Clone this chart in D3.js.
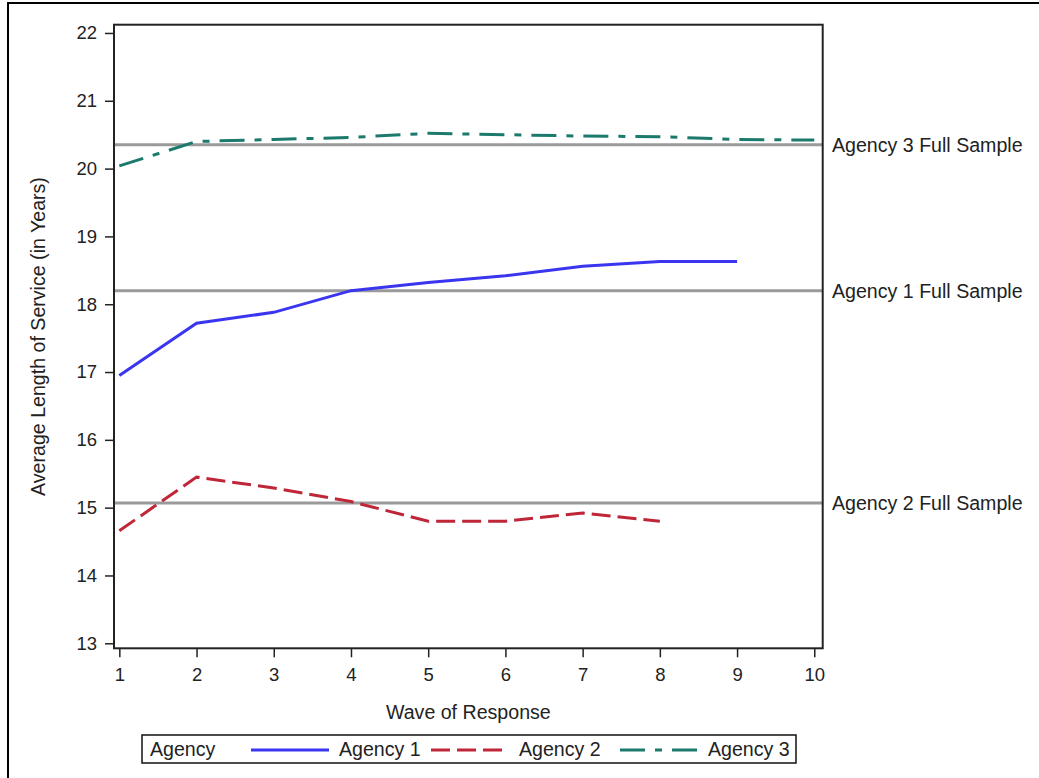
<!DOCTYPE html>
<html>
<head>
<meta charset="utf-8">
<script src="https://cdn.jsdelivr.net/npm/d3@7"></script>
<style>
  html, body { margin: 0; padding: 0; background: #fff; }
  svg text { font-family: "Liberation Sans", Arial, sans-serif; fill: #222; }
</style>
</head>
<body>
<svg id="chart" width="1039" height="778"></svg>
<script>
// Wave of response (x) and average length of service by agency
const waves = [1, 2, 3, 4, 5, 6, 7, 8, 9, 10];
const agency1 = [16.95, 17.72, 17.88, 18.20, 18.32, 18.42, 18.56, 18.63, 18.63];
const agency2 = [14.66, 15.45, 15.29, 15.09, 14.80, 14.80, 14.92, 14.80];
const agency3 = [20.04, 20.40, 20.43, 20.46, 20.52, 20.50, 20.48, 20.47, 20.43, 20.42];
// Full-sample reference values
const fullSampleNames = ["Agency 3 Full Sample", "Agency 1 Full Sample", "Agency 2 Full Sample"];
const fullSampleValues = [20.35, 18.20, 15.07];
const xTicks = [1, 2, 3, 4, 5, 6, 7, 8, 9, 10];
const yTicks = [13, 14, 15, 16, 17, 18, 19, 20, 21, 22];
const seriesNames = ["Agency 1", "Agency 2", "Agency 3"];

const svg = d3.select("#chart");

// outer frame (left and top edges visible)
svg.append("rect").attr("x", 8).attr("y", 3).attr("width", 1100).attr("height", 900)
  .attr("fill", "none").attr("stroke", "#000").attr("stroke-width", 2);

const L = 114, R = 822.7, T = 24.7, B = 648.3;
const x = d3.scaleLinear().domain([0.931, 10.109]).range([L, R]);
const y = d3.scaleLinear().domain([12.926, 22.122]).range([B, T]);

// reference lines
const refG = svg.append("g");
fullSampleValues.forEach((v, i) => {
  refG.append("line").attr("x1", L).attr("x2", R).attr("y1", y(v)).attr("y2", y(v))
    .attr("stroke", "#9a9a9a").attr("stroke-width", 3);
  refG.append("text").attr("x", 832).attr("y", y(v)).attr("dy", "0.36em")
    .attr("font-size", 19.6).text(fullSampleNames[i]);
});

// series
const styles = [
  { color: "#3a36f0", dash: null },
  { color: "#bf2638", dash: "19,7" },
  { color: "#1b7a6c", dash: "25,10,7,10" }
];
const allSeries = [agency1, agency2, agency3];
const line = d3.line().x((d, i) => x(waves[i])).y(d => y(d));
allSeries.forEach((s, i) => {
  svg.append("path").datum(s).attr("d", line).attr("fill", "none")
    .attr("stroke", styles[i].color).attr("stroke-width", 3)
    .attr("stroke-dasharray", styles[i].dash);
});

// frame
svg.append("rect").attr("x", L).attr("y", T).attr("width", R - L).attr("height", B - T)
  .attr("fill", "none").attr("stroke", "#222").attr("stroke-width", 2);

// axes
const xAxis = d3.axisBottom(x).tickValues(xTicks).tickSize(9).tickPadding(11).tickFormat(d3.format("d"));
const gx = svg.append("g").attr("transform", `translate(0,${B})`).call(xAxis);
gx.select(".domain").remove();
gx.selectAll("line").attr("stroke", "#222").attr("stroke-width", 1.5);
gx.selectAll("text").attr("font-size", 18.5).attr("fill", "#222");

const yAxis = d3.axisLeft(y).tickValues(yTicks).tickSize(9).tickPadding(8).tickFormat(d3.format("d"));
const gy = svg.append("g").attr("transform", `translate(${L},0)`).call(yAxis);
gy.select(".domain").remove();
gy.selectAll("line").attr("stroke", "#222").attr("stroke-width", 1.5);
gy.selectAll("text").attr("font-size", 18.5).attr("fill", "#222");

// axis titles
svg.append("text").attr("x", (L + R) / 2).attr("y", 719).attr("text-anchor", "middle")
  .attr("font-size", 19.6).text("Wave of Response");
svg.append("text").attr("transform", `translate(45,${(T + B) / 2}) rotate(-90)`)
  .attr("text-anchor", "middle").attr("font-size", 19.6).text("Average Length of Service (in Years)");

// legend
const lg = svg.append("g");
lg.append("rect").attr("x", 142).attr("y", 735).attr("width", 654).attr("height", 28)
  .attr("fill", "#fff").attr("stroke", "#111").attr("stroke-width", 1.5);
lg.append("text").attr("x", 150).attr("y", 756).attr("font-size", 19.6).text("Agency");
const sampleX = [251, 431, 620];
sampleX.forEach((sx, i) => {
  lg.append("line").attr("x1", sx).attr("x2", sx + 78).attr("y1", 750).attr("y2", 750)
    .attr("stroke", styles[i].color).attr("stroke-width", 3)
    .attr("stroke-dasharray", styles[i].dash);
  lg.append("text").attr("x", sx + 88).attr("y", 756).attr("font-size", 19.6).text(seriesNames[i]);
});
</script>
</body>
</html>
